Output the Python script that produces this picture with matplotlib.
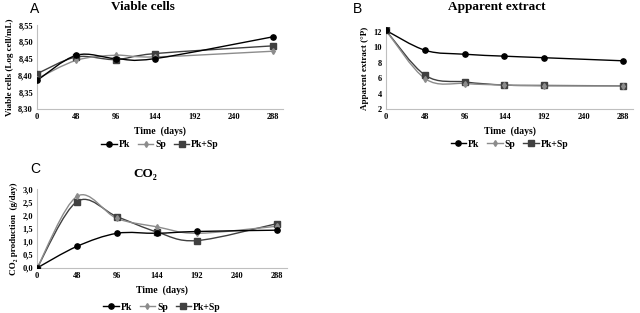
import matplotlib
matplotlib.use("Agg")
import matplotlib.pyplot as plt
from matplotlib.path import Path
from matplotlib.patches import PathPatch
from matplotlib.lines import Line2D
from matplotlib.ticker import FuncFormatter

plt.rcParams['font.family'] = ['Liberation Serif', 'DejaVu Serif']

# ---- data ----
days_a = [0, 48, 96, 144, 288]
cells_pk = [8.385, 8.46, 8.45, 8.45, 8.515]
cells_sp = [8.39, 8.445, 8.46, 8.455, 8.472]
cells_pksp = [8.405, 8.455, 8.447, 8.465, 8.488]

days = [0, 48, 96, 144, 192, 288]
ext_pk = [12.2, 9.6, 9.1, 8.85, 8.65, 8.25]
ext_sp = [12.2, 5.9, 5.3, 5.1, 5.0, 5.0]
ext_pksp = [12.2, 6.35, 5.5, 5.1, 5.05, 5.0]

co2_pk = [0.0, 0.83, 1.33, 1.33, 1.4, 1.45]
co2_sp = [0.0, 2.75, 1.9, 1.58, 1.33, 1.6]
co2_pksp = [0.0, 2.55, 1.97, 1.38, 1.05, 1.7]

series_names = ['Pk', 'Sp', 'Pk+Sp']
x_ticks = [0, 48, 96, 144, 192, 240, 288]

colors = ['#000000', '#8c8c8c', '#404040']
markers = ['o', 'd', 's']
msizes = [3.8, 3.0, 3.8]


def smooth_path(xs, ys):
    pts = list(zip(xs, ys))
    n = len(pts)
    verts = [pts[0]]
    codes = [Path.MOVETO]
    for i in range(n - 1):
        p0 = pts[i - 1] if i > 0 else pts[i]
        p1 = pts[i]
        p2 = pts[i + 1]
        p3 = pts[i + 2] if i + 2 < n else pts[i + 1]
        c1 = (p1[0] + (p2[0] - p0[0]) / 6.0, p1[1] + (p2[1] - p0[1]) / 6.0)
        c2 = (p2[0] - (p3[0] - p1[0]) / 6.0, p2[1] - (p3[1] - p1[1]) / 6.0)
        verts += [c1, c2, p2]
        codes += [Path.CURVE4] * 3
    return Path(verts, codes)


def comma_fmt(decimals):
    return FuncFormatter(lambda v, p: f"{v:.{decimals}f}".replace('.', ','))


def setup(ax, xs, data, ylim, yticks, dec, ylabel, title, letter, title_xy, letter_xy,
          leg_y=-0.27):
    for k, ys in enumerate(data):
        patch = PathPatch(smooth_path(xs, ys), facecolor='none', edgecolor=colors[k],
                          lw=1.0, transform=ax.transData, zorder=2 + (2 - k) * 0.1)
        ax.add_patch(patch)
        ax.plot(xs, ys, ls='none', marker=markers[k], color=colors[k], ms=msizes[k],
                zorder=3 + (2 - k) * 0.1)
    ax.set_xlim(0, 300)
    ax.set_ylim(*ylim)
    ax.set_xticks(x_ticks)
    ax.set_yticks(yticks)
    ax.yaxis.set_major_formatter(comma_fmt(dec))
    for s in ['top', 'right']:
        ax.spines[s].set_visible(False)
    for s in ['left', 'bottom']:
        ax.spines[s].set_color('#bfbfbf')
        ax.spines[s].set_linewidth(0.8)
    ax.tick_params(length=0, labelsize=6, pad=3)
    for lab in ax.get_xticklabels() + ax.get_yticklabels():
        lab.set_fontweight('bold')
    ax.set_xlabel('Time  (days)', fontsize=7, fontweight='bold', labelpad=4)
    ax.set_ylabel(ylabel, fontsize=6.5, fontweight='bold', labelpad=3)
    handles = [Line2D([], [], color=colors[k], marker=markers[k], ms=msizes[k], lw=1.0)
               for k in range(3)]
    ax.legend(handles, series_names, loc='upper center', bbox_to_anchor=(0.5, leg_y),
              ncol=3, frameon=False, handlelength=1.6, handletextpad=0.2,
              columnspacing=0.8, prop={'weight': 'bold', 'size': 7})
    fig.text(title_xy[0], title_xy[1], title, ha='center', va='center', fontsize=9.5,
             fontweight='bold')
    fig.text(letter_xy[0], letter_xy[1], letter, ha='left', va='center', fontsize=10,
             family='Liberation Sans')


fig = plt.figure(figsize=(6.4, 3.13), dpi=100)

axA = fig.add_axes([0.058, 0.652, 0.384, 0.268])
setup(axA, days_a, [cells_pk, cells_sp, cells_pksp], (8.30, 8.55),
      [8.30, 8.35, 8.40, 8.45, 8.50, 8.55], 2, 'Viable cells (Log cell/mL)',
      'Viable cells', 'A', (143 / 640, 1 - 7 / 313), (30 / 640, 1 - 9 / 313))

axB = fig.add_axes([0.603, 0.652, 0.386, 0.262])
setup(axB, days, [ext_pk, ext_sp, ext_pksp], (2, 12.65),
      [2, 4, 6, 8, 10, 12], 0, 'Apparent extract (°P)',
      'Apparent extract', 'B', (497 / 640, 1 - 7 / 313), (353 / 640, 1 - 9 / 313))

axC = fig.add_axes([0.058, 0.144, 0.390, 0.252])
setup(axC, days, [co2_pk, co2_sp, co2_pksp], (0, 3.03),
      [0, 0.5, 1.0, 1.5, 2.0, 2.5, 3.0], 1, 'CO₂ production  (g/day)',
      'CO₂', 'C', (145 / 640, 1 - 174 / 313), (30 / 640, 1 - 169 / 313), leg_y=-0.33)

fig.savefig('out.png', dpi=100)
